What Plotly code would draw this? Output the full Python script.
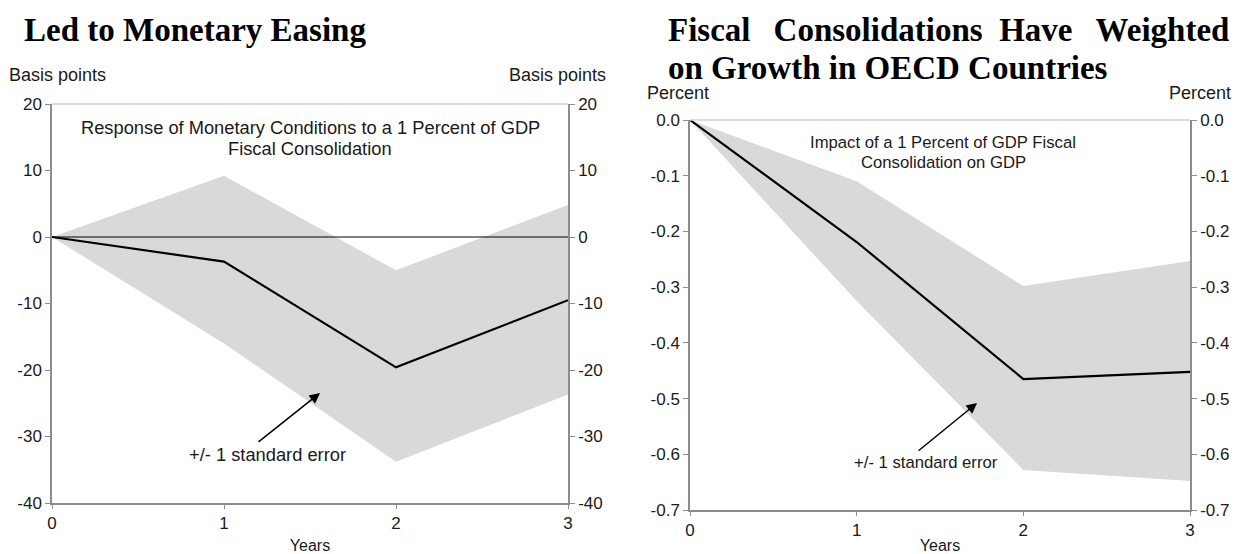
import plotly.graph_objects as go

W, H = 1244, 554

# ---------- data ----------
years = [0, 1, 2, 3]
# Left panel: monetary conditions (basis points)
mon_center = [0, -3.7, -19.6, -9.5]
mon_upper = [0, 9.2, -5.0, 4.8]
mon_lower = [0, -16.0, -33.8, -23.7]
mon_ticks = [20, 10, 0, -10, -20, -30, -40]
mon_ticktext = ["20", "10", "0", "-10", "-20", "-30", "-40"]

# Right panel: GDP impact (percent)
gdp_center = [0, -0.219, -0.465, -0.452]
gdp_upper = [0, -0.11, -0.298, -0.253]
gdp_lower = [0, -0.325, -0.628, -0.648]
gdp_ticks = [0.0, -0.1, -0.2, -0.3, -0.4, -0.5, -0.6, -0.7]
gdp_ticktext = ["0.0", "-0.1", "-0.2", "-0.3", "-0.4", "-0.5", "-0.6", "-0.7"]

SANS = "Liberation Sans, Arial, sans-serif"
SERIF = "Liberation Serif, Times New Roman, serif"
BAND = "#d9d9d9"
AX = "#8c8c8c"
TXT = "#1a1a1a"


def px(x):
    return x / W


def py(y):
    return 1 - y / H


fig = go.Figure()

# Left panel traces
fig.add_trace(go.Scatter(x=years + years[::-1], y=mon_upper + mon_lower[::-1],
                         fill="toself", fillcolor=BAND, line=dict(width=0),
                         mode="lines", hoverinfo="skip", xaxis="x", yaxis="y"))
fig.add_trace(go.Scatter(x=years, y=mon_center, mode="lines",
                         line=dict(color="black", width=2.2), xaxis="x", yaxis="y"))
# Right panel traces
fig.add_trace(go.Scatter(x=years + years[::-1], y=gdp_upper + gdp_lower[::-1],
                         fill="toself", fillcolor=BAND, line=dict(width=0),
                         mode="lines", hoverinfo="skip", xaxis="x2", yaxis="y3"))
fig.add_trace(go.Scatter(x=years, y=gdp_center, mode="lines",
                         line=dict(color="black", width=2.2), xaxis="x2", yaxis="y3"))

tickfont = dict(family=SANS, size=17, color=TXT)

dom_l_x = [px(52), px(568)]
dom_l_y = [py(503), py(104)]
dom_r_x = [px(690), px(1190)]
dom_r_y = [py(510), py(120)]

yl_common = dict(tickfont=tickfont, showgrid=False, zeroline=False, showline=True,
                 linecolor=AX, linewidth=1.5, ticks="outside", ticklen=5, tickcolor=AX,
                 automargin=False)
xl_common = dict(range=[0, 3], tickvals=years, tickfont=tickfont, showgrid=False,
                 zeroline=False, showline=True, linecolor=AX, linewidth=1.5,
                 ticks="outside", ticklen=4, tickcolor=AX, automargin=False,
                 title=dict(text="Years", font=dict(family=SANS, size=16, color=TXT), standoff=10))

fig.update_layout(
    width=W, height=H,
    margin=dict(l=0, r=0, t=0, b=0),
    paper_bgcolor="white", plot_bgcolor="white",
    showlegend=False,
    xaxis=dict(domain=dom_l_x, anchor="y", **xl_common),
    yaxis=dict(domain=dom_l_y, anchor="x", range=[-40, 20], tickvals=mon_ticks,
               ticktext=mon_ticktext, **yl_common),
    yaxis2=dict(domain=dom_l_y, anchor="x", overlaying="y", side="right",
                range=[-40, 20], tickvals=mon_ticks, ticktext=mon_ticktext, **yl_common),
    xaxis2=dict(domain=dom_r_x, anchor="y3", **xl_common),
    yaxis3=dict(domain=dom_r_y, anchor="x2", range=[-0.7, 0.0], tickvals=gdp_ticks,
                ticktext=gdp_ticktext, **yl_common),
    yaxis4=dict(domain=dom_r_y, anchor="x2", overlaying="y3", side="right",
                range=[-0.7, 0.0], tickvals=gdp_ticks, ticktext=gdp_ticktext, **yl_common),
)

# dummy traces so right axes render
fig.add_trace(go.Scatter(x=[None], y=[None], xaxis="x", yaxis="y2", showlegend=False))
fig.add_trace(go.Scatter(x=[None], y=[None], xaxis="x2", yaxis="y4", showlegend=False))

# top borders (light)
for xr, yr in (("x", "y"), ("x2", "y3")):
    fig.add_shape(type="line", xref=f"{xr} domain", yref=f"{yr} domain",
                  x0=0, x1=1, y0=1, y1=1, line=dict(color="#d0d0d0", width=1.5))

# zero line in left panel
fig.add_shape(type="line", xref="x domain", yref="y", x0=0, x1=1, y0=0, y1=0,
              line=dict(color="black", width=1.2))

ann = []


def txt(text, x, y, font, xanchor="center"):
    ann.append(dict(text=text, x=px(x), y=py(y), xref="paper", yref="paper",
                    xanchor=xanchor, yanchor="middle", showarrow=False, font=font))


# Titles
titlefont = dict(family=SERIF, size=33, color="black")
txt("<b>Led to Monetary Easing</b>", 22, 30, titlefont, "left")
txt("<b>Fiscal&nbsp;&nbsp;&#8201;Consolidations&nbsp;&nbsp;Have&nbsp;&nbsp;&#8201;Weighted</b>",
    666, 30, titlefont, "left")
txt("<b>on Growth in OECD Countries</b>", 666, 68, titlefont, "left")

unitfont = dict(family=SANS, size=18, color=TXT)
txt("Basis points", 7, 75, unitfont, "left")
txt("Basis points", 608, 75, unitfont, "right")
txt("Percent", 645, 93, unitfont, "left")
txt("Percent", 1233, 93, unitfont, "right")

note_l = dict(family=SANS, size=18.3, color=TXT)
note_r = dict(family=SANS, size=16.7, color=TXT)
txt("Response of Monetary Conditions to a 1 Percent of GDP", 310, 128, note_l)
txt("Fiscal Consolidation", 310, 148, note_l)
txt("Impact of a 1 Percent of GDP Fiscal", 943, 142, note_r)
txt("Consolidation on GDP", 943, 163, note_r)

txt("+/- 1 standard error", 267, 454, note_l)
txt("+/- 1 standard error", 926, 462, note_r)

# arrows (tail offsets in pixels)
ann.append(dict(text="", x=px(320), y=py(393), xref="paper", yref="paper",
                ax=-63, ay=50, axref="pixel", ayref="pixel",
                showarrow=True, arrowhead=2, arrowsize=1.4, arrowwidth=1.5, arrowcolor="black"))
ann.append(dict(text="", x=px(977), y=py(403), xref="paper", yref="paper",
                ax=-60, ay=49, axref="pixel", ayref="pixel",
                showarrow=True, arrowhead=2, arrowsize=1.4, arrowwidth=1.5, arrowcolor="black"))

fig.update_layout(annotations=ann)

fig.write_html("out.html")
